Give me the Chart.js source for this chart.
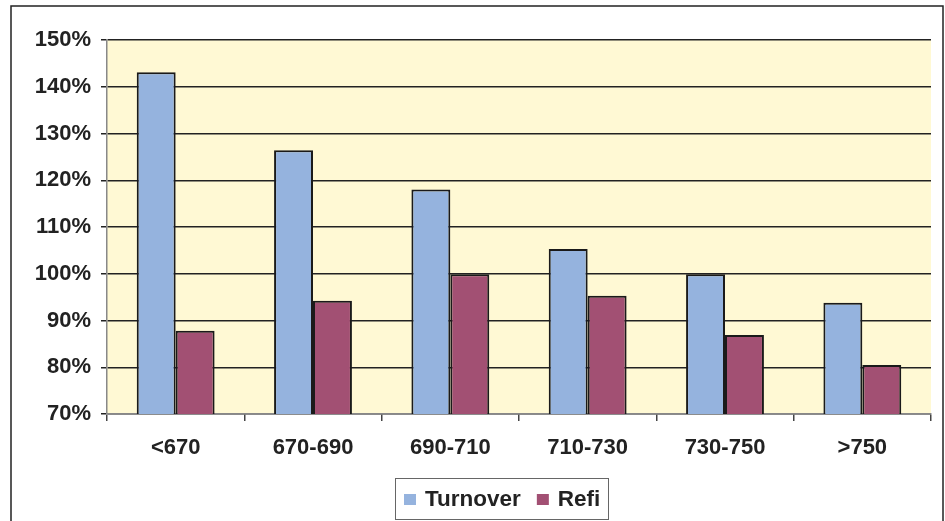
<!DOCTYPE html>
<html>
<head>
<meta charset="utf-8">
<script src="https://cdn.jsdelivr.net/npm/chart.js@4"></script>
<style>
  html, body { margin: 0; padding: 0; background: #fff; }
  #wrap { width: 945px; height: 521px; }
</style>
</head>
<body>
<div id="wrap"><canvas id="grafico" width="945" height="521"></canvas></div>
<script>
var categorias = ["<670", "670-690", "690-710", "710-730", "730-750", ">750"];
var turnover = [143.1, 126.4, 118.0, 105.3, 99.9, 93.8];
var refi = [87.8, 94.2, 99.9, 95.3, 86.9, 80.5];

var fonte = "Arial, 'Liberation Sans', sans-serif";

// fundo amarelo da area do grafico + moldura externa
var moldura = {
    id: 'moldura',
    beforeDraw: function (chart) {
        var c = chart.ctx, a = chart.chartArea;
        c.save();
        c.fillStyle = '#fff';
        c.fillRect(0, 0, chart.width, chart.height);
        c.fillStyle = '#FFF9D4';
        c.fillRect(a.left, a.top, a.right - a.left, a.bottom - a.top);
        c.strokeStyle = '#222';
        c.lineWidth = 1.5;
        c.strokeRect(11, 6, 932, 530);
        c.restore();
    }
};

// legenda desenhada com caixa, como no original
var legenda = {
    id: 'legenda',
    afterDraw: function (chart) {
        var c = chart.ctx;
        var ds = chart.data.datasets;
        c.save();
        c.font = "bold 22.5px " + fonte;
        c.textBaseline = 'middle';
        var x = 404, y = 499;
        var boxL = 395, boxT = 478, boxR = 608, boxB = 519;
        c.strokeStyle = '#666';
        c.lineWidth = 1;
        c.strokeRect(boxL + 0.5, boxT + 0.5, boxR - boxL, boxB - boxT);
        for (var i = 0; i < ds.length; i++) {
            c.fillStyle = ds[i].backgroundColor;
            c.fillRect(x, y - 5, 12, 11);
            c.fillStyle = '#222';
            c.fillText(ds[i].label, x + 21, y + 1);
            x += 21 + c.measureText(ds[i].label).width + 16;
        }
        c.restore();
    }
};

var ctx = document.getElementById("grafico");

var myChart = new Chart(ctx, {
    type: 'bar',
    data: {
        labels: categorias,
        datasets: [{
            label: 'Turnover',
            data: turnover,
            backgroundColor: '#95B3DE',
            borderColor: '#1a1a1a',
            borderWidth: 2,
            borderSkipped: 'bottom'
        }, {
            label: 'Refi',
            data: refi,
            backgroundColor: '#A25073',
            borderColor: '#1a1a1a',
            borderWidth: 2,
            borderSkipped: 'bottom'
        }]
    },
    options: {
        responsive: false,
        animation: false,
        layout: { padding: { top: 40, right: 14, left: 0, bottom: 0 } },
        datasets: {
            bar: { categoryPercentage: 0.567, barPercentage: 1.0 }
        },
        plugins: {
            legend: { display: false },
            tooltip: { enabled: false }
        },
        scales: {
            x: {
                afterFit: function (s) { s.height = 107; },
                grid: {
                    drawOnChartArea: false,
                    drawTicks: true,
                    tickLength: 7,
                    color: '#444',
                    lineWidth: 1.5
                },
                border: { display: true, color: '#888', width: 1.5 },
                ticks: {
                    color: '#222',
                    padding: 14,
                    font: { family: fonte, size: 22, weight: 'bold' }
                }
            },
            y: {
                min: 70,
                max: 150,
                afterFit: function (s) { s.width = 107; },
                grid: {
                    color: '#222',
                    lineWidth: 1.5,
                    tickLength: 6
                },
                border: { display: true, color: '#888', width: 1.5 },
                ticks: {
                    stepSize: 10,
                    color: '#222',
                    padding: 10,
                    font: { family: fonte, size: 22, weight: 'bold' },
                    callback: function (v) { return v + '%'; }
                }
            }
        }
    },
    plugins: [moldura, legenda]
});
</script>
</body>
</html>
